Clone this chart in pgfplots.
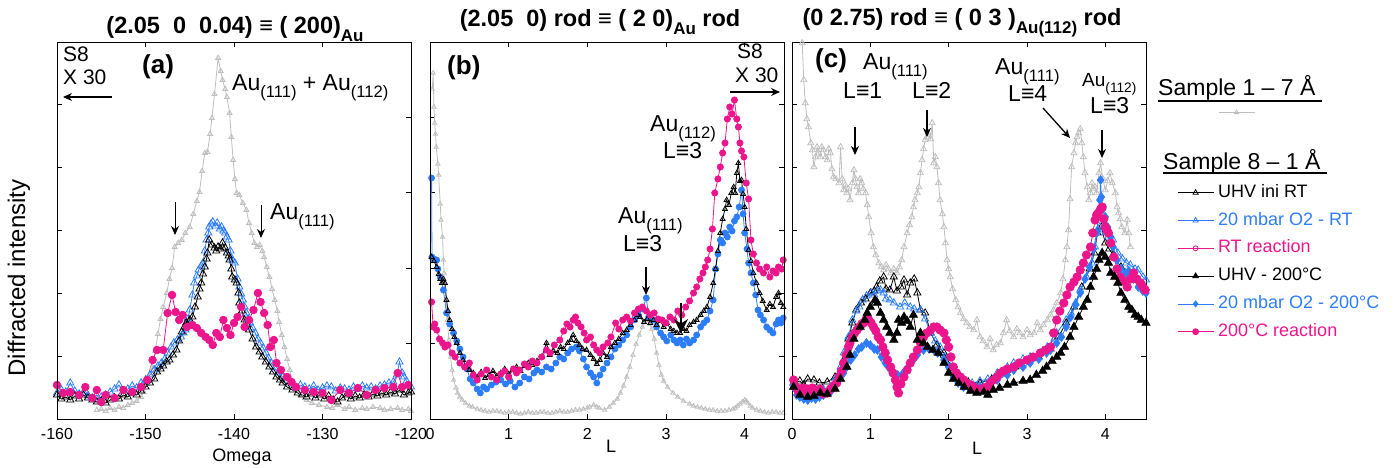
\documentclass[border=0pt]{standalone}
\usepackage{fontspec}
\setmainfont{Liberation Sans}
\usepackage{graphicx}
\usepackage{pgfplots}
\pgfplotsset{compat=1.18}
\usetikzlibrary{arrows.meta}

\definecolor{cgray}{RGB}{190,190,190}
\definecolor{cblue}{RGB}{45,125,250}
\definecolor{cpink}{RGB}{236,22,140}
\newcommand{\fs}[1]{\fontsize{#1}{#1}\selectfont}
\newcommand{\sbs}[1]{\raisebox{-0.3em}{\scalebox{0.72}{#1}}}

\pgfplotsset{
  panel/.style={scale only axis, width=354pt, height=377pt, ymin=0, ymax=377,
    yticklabels={}, tick align=inside, major tick length=5pt,
    tick style={black, line width=0.7pt}, axis line style={line width=0.8pt},
    tick label style={font=\fs{16}}, xticklabel style={yshift=-6pt},
    xtick pos=both, anchor=south west},
  rticks/.style={panel, hide x axis, ytick pos=right},
  s1/.style={cgray, line width=0.8pt, mark=triangle, mark size=2.8pt, mark options={solid}},
  uhvrt/.style={black, line width=0.8pt, mark=triangle, mark size=4.2pt, mark options={solid}},
  o2rt/.style={cblue, line width=0.8pt, mark=triangle, mark size=4.2pt, mark options={solid}},
  uhvhot/.style={black, line width=0.8pt, mark=triangle*, mark size=4.7pt, mark options={solid}},
  o2hot/.style={cblue, line width=0.8pt, mark=diamond*, mark size=4.3pt, mark options={solid}},
  reachot/.style={cpink, line width=0.8pt, mark=*, mark size=3.8pt, mark options={solid}},
  legend image code/.code={\draw[mark repeat=2,mark phase=2,#1] plot coordinates {(0pt,0pt) (18pt,0pt) (36pt,0pt)};},
}

\begin{document}
\begin{tikzpicture}[x=1pt,y=1pt]
\useasboundingbox (0,0) rectangle (1399,468);

% ---------------- (a) ----------------
\begin{axis}[panel, at={(57pt,49pt)}, xmin=-160, xmax=-120,
  xtick={-160,-150,-140,-130,-120}, xticklabels={-160,-150,-140,-130,-120},
  ytick={63,126,189,252,315}, ytick pos=left]
\addplot[s1] coordinates {(-155.5,9) (-155,10) (-154.5,8) (-154,11) (-153.5,9) (-153,12) (-152.5,11) (-152,14) (-151.5,16) (-151,18) (-150.5,22) (-150.2,27) (-149.8,35) (-149.5,44) (-149.2,52) (-148.9,68) (-148.6,85) (-148.3,100) (-148.0,112) (-147.6,126) (-147.3,140) (-147.0,151) (-146.7,172) (-146.3,176) (-145.9,179) (-145.5,186) (-145.0,192) (-144.6,205) (-144.2,218) (-143.9,227) (-143.6,248) (-143.3,266) (-143.0,267) (-142.7,285) (-142.5,301) (-142.2,325) (-141.8,361) (-141.5,348) (-141.3,339) (-141.0,330) (-140.8,322) (-140.5,306) (-140.3,282) (-140.1,259) (-139.9,240) (-139.7,226) (-139.4,224) (-139.0,216) (-138.6,209) (-138.3,196) (-138.0,186) (-137.7,176) (-137.4,172) (-137.1,174) (-136.8,168) (-136.6,162) (-136.3,152) (-136.0,142) (-135.7,130) (-135.4,119) (-135.1,108) (-134.9,97) (-134.6,84) (-134.3,72) (-134.0,60) (-133.7,49) (-133.4,38) (-133.0,29) (-132.5,24) (-131.8,19) (-131.2,16) (-130.4,14) (-129.5,12) (-128.9,11) (-128.3,14) (-127.5,10) (-127,12) (-126.3,9) (-125.5,11) (-125,10) (-124.3,12) (-123.5,11) (-123,9) (-122.3,10) (-121.5,11) (-121,9) (-120.3,10) (-120,8)};
\addplot[o2rt] coordinates {(-160,26) (-159.5,29) (-159,27) (-158.5,36) (-158,28) (-157.5,25) (-157,27) (-156.5,23) (-156,21) (-155.5,20) (-155,22) (-154.5,24) (-154,27) (-153.5,30) (-153,34) (-152.5,28) (-152,30) (-151.5,33) (-151,31) (-150.5,36) (-150,39) (-149.5,44) (-149,49) (-148.6,53) (-148.2,56) (-147.8,60) (-147.5,66) (-147.1,72) (-146.8,76) (-146.4,79) (-146,82) (-145.7,86) (-145.5,89) (-145.2,100) (-145,109) (-144.7,124) (-144.5,136) (-144.2,143) (-144,149) (-143.7,153) (-143.5,156) (-143.3,168) (-143.1,179) (-142.9,186) (-142.8,192) (-142.6,195) (-142.4,197) (-142.1,193) (-141.9,196) (-141.6,190) (-141.4,192) (-141.2,188) (-141,186) (-140.8,182) (-140.6,179) (-140.4,168) (-140.3,161) (-140.1,158) (-139.9,156) (-139.6,140) (-139.4,132) (-139.2,125) (-139,119) (-138.8,112) (-138.6,106) (-138.4,100) (-138.2,96) (-137.9,91) (-137.6,86) (-137.3,80) (-137,76) (-136.7,71) (-136.4,66) (-136.1,61) (-135.8,56) (-135.4,51) (-135,46) (-134.5,42) (-134,39) (-133.5,35) (-133,31) (-132.5,34) (-132,32) (-131.5,30) (-131,33) (-130.5,29) (-130,31) (-129.5,33) (-129,32) (-128.5,28) (-128,31) (-127.5,30) (-127,29) (-126.5,32) (-126,30) (-125.5,33) (-125,31) (-124.5,32) (-124,30) (-123.5,33) (-123,34) (-122.5,36) (-122,37) (-121.6,44) (-121.3,57) (-121,46) (-120.8,42) (-120.5,38) (-120,32)};
\addplot[uhvrt] coordinates {(-160,24) (-159.5,20) (-159,22) (-158.5,19) (-158,23) (-157.5,20) (-157,24) (-156.5,21) (-156,19) (-155.5,17) (-155,18) (-154.5,16) (-154,19) (-153.5,21) (-153,20) (-152.5,24) (-152,22) (-151.5,26) (-151,24) (-150.5,28) (-150,32) (-149.5,36) (-149,40) (-148.7,47) (-148.3,50) (-148,53) (-147.6,57) (-147.3,59) (-146.9,64) (-146.5,69) (-146.2,78) (-145.9,87) (-145.6,92) (-145.4,96) (-145.0,99) (-144.7,102) (-144.4,112) (-144.1,122) (-143.9,130) (-143.7,136) (-143.5,145) (-143.3,152) (-143.1,160) (-143.0,166) (-142.8,179) (-142.5,174) (-142.2,171) (-142.0,168) (-141.8,172) (-141.5,170) (-141.3,176) (-141.0,171) (-140.8,166) (-140.6,163) (-140.5,159) (-140.3,150) (-140.2,142) (-139.9,139) (-139.7,136) (-139.5,126) (-139.4,116) (-139.1,108) (-138.8,99) (-138.5,94) (-138.3,89) (-137.9,80) (-137.5,72) (-137.1,67) (-136.8,62) (-136.4,57) (-136.0,52) (-135.6,47) (-135.2,42) (-134.8,39) (-134.5,36) (-134.0,32) (-133.4,29) (-132.8,26) (-132.3,24) (-131.8,22) (-131.3,25) (-130.8,21) (-130.3,24) (-129.8,20) (-129.3,23) (-128.8,19) (-128.3,17) (-127.8,21) (-127.3,24) (-126.8,20) (-126.3,23) (-125.8,21) (-125.3,24) (-124.8,22) (-124.3,25) (-123.8,23) (-123.3,26) (-122.8,24) (-122.3,27) (-121.8,25) (-121.3,29) (-120.8,24) (-120.3,26) (-120,27)};
\addplot[reachot] coordinates {(-160,34) (-159.3,26) (-158.5,27) (-157.5,24) (-156.8,32) (-156,21) (-155.5,29) (-155,17) (-154.5,24) (-153.5,21) (-152.5,29) (-151.5,27) (-150.5,32) (-149.8,39) (-149.2,59) (-148.7,69) (-148,69) (-147.5,106) (-147,124) (-146.6,107) (-146.2,99) (-145.8,104) (-145.3,92) (-144.7,94) (-144.2,91) (-143.7,86) (-143.2,82) (-142.8,79) (-142.4,74) (-142.0,86) (-141.6,82) (-141.2,99) (-140.8,91) (-140.4,84) (-140.0,96) (-139.6,102) (-139.2,112) (-138.8,92) (-138.3,99) (-137.8,109) (-137.3,126) (-137.0,117) (-136.6,106) (-136.2,94) (-135.9,72) (-135.5,79) (-135.2,56) (-134.7,49) (-134.0,42) (-133.5,37) (-133.0,32) (-132,29) (-131,27) (-130,26) (-129,19) (-128,29) (-127,26) (-126,31) (-125,24) (-124,29) (-123,31) (-122,32) (-121.5,46) (-121,32) (-120.3,34)};
\end{axis}
\begin{axis}[rticks, at={(57pt,49pt)}, xmin=-160, xmax=-120, ytick={76,151,227,302}]
\end{axis}

% ---------------- (b) ----------------
\begin{axis}[panel, at={(430pt,49pt)}, xmin=0, xmax=4.5, xtick={0,1,2,3,4}, xticklabels={0,1,2,3,4},
  ytick={76,151,227,302}, ytick pos=left,
  legend style={at={(2.28,0.815)}, anchor=center, draw=none, fill=none, inner sep=0pt, nodes={inner sep=0pt}},
  legend image post style={mark size=2.5pt}]
\addplot[s1, mark size=2.5pt] coordinates {(0.03,330) (0.04,346) (0.05,312) (0.06,296) (0.07,285) (0.08,272) (0.10,255) (0.11,244) (0.13,215) (0.14,199) (0.16,182) (0.17,159) (0.18,146) (0.20,119) (0.22,99) (0.24,79) (0.26,62) (0.28,49) (0.30,39) (0.33,31) (0.35,26) (0.38,22) (0.41,19) (0.45,16) (0.50,13) (0.54,12) (0.6,10) (0.65,9) (0.7,8) (0.75,7) (0.8,8) (0.85,8) (0.9,7) (0.95,6) (1.0,7) (1.05,7) (1.1,6) (1.15,5) (1.2,6) (1.25,7) (1.3,6) (1.35,6) (1.4,7) (1.45,7) (1.5,6) (1.55,6) (1.6,7) (1.65,8) (1.7,7) (1.75,7) (1.8,8) (1.85,9) (1.9,9) (1.95,10) (2.0,11) (2.03,12) (2.08,14) (2.12,12) (2.15,11) (2.22,9) (2.28,12) (2.33,16) (2.38,20) (2.42,26) (2.46,33) (2.50,42) (2.54,52) (2.58,64) (2.62,75) (2.66,84) (2.70,92) (2.75,99) (2.79,95) (2.82,90) (2.85,80) (2.88,66) (2.91,54) (2.94,44) (2.97,38) (3.02,32) (3.09,26) (3.15,22) (3.22,18) (3.3,15) (3.35,13) (3.4,12) (3.45,11) (3.5,10) (3.55,9) (3.6,9) (3.65,8) (3.7,8) (3.75,8) (3.8,9) (3.85,10) (3.88,11) (3.91,13) (3.94,15) (3.97,17) (4.0,19) (4.02,18) (4.04,16) (4.07,13) (4.1,11) (4.15,9) (4.2,8) (4.25,7) (4.3,6) (4.35,7) (4.4,7) (4.45,6) (4.49,6)};
\addlegendentry{}
\addplot[cblue, line width=0.8pt, mark=*, mark size=3pt, forget plot] coordinates {(0.02,241) (0.025,162) (0.05,160) (0.085,159) (0.1,150) (0.13,142) (0.17,129) (0.21,106) (0.25,95) (0.3,86) (0.34,78) (0.38,70) (0.42,62) (0.47,50) (0.51,40) (0.55,36) (0.6,30) (0.64,26) (0.68,32) (0.72,30) (0.78,34) (0.84,37) (0.9,39) (0.96,35) (1.02,38) (1.08,32) (1.14,36) (1.2,42) (1.26,40) (1.32,46) (1.36,49) (1.42,47) (1.48,52) (1.54,50) (1.6,56) (1.65,62) (1.7,60) (1.75,66) (1.8,70) (1.86,72) (1.9,68) (1.95,60) (1.99,52) (2.04,46) (2.08,42) (2.12,36) (2.16,44) (2.2,50) (2.25,56) (2.3,62) (2.35,70) (2.4,74) (2.45,79) (2.5,84) (2.55,92) (2.6,99) (2.65,104) (2.7,110) (2.75,121) (2.78,102) (2.84,99) (2.88,92) (2.93,86) (2.97,82) (3.01,78) (3.06,84) (3.1,79) (3.14,76) (3.18,79) (3.22,74) (3.26,80) (3.3,76) (3.35,79) (3.39,84) (3.44,92) (3.48,96) (3.52,99) (3.56,108) (3.6,119) (3.63,150) (3.66,165) (3.69,179) (3.72,176) (3.75,186) (3.78,182) (3.81,192) (3.84,188) (3.87,198) (3.9,202) (3.93,212) (3.96,229) (3.98,205) (4.0,186) (4.03,170) (4.05,156) (4.08,146) (4.11,136) (4.14,124) (4.17,109) (4.2,104) (4.24,99) (4.28,92) (4.32,89) (4.36,86) (4.4,95) (4.43,99) (4.46,96) (4.49,101)};
\addplot[black, line width=0.8pt, mark=triangle, mark size=2.8pt, mark options={solid}, forget plot] coordinates {(0.02,162) (0.05,158) (0.085,152) (0.11,145) (0.13,140) (0.15,136) (0.17,140) (0.19,136) (0.21,119) (0.23,108) (0.25,99) (0.28,90) (0.31,82) (0.34,76) (0.38,66) (0.42,59) (0.46,52) (0.5,49) (0.55,46) (0.6,42) (0.65,47) (0.7,41) (0.75,44) (0.8,48) (0.85,43) (0.9,46) (0.95,50) (1.0,45) (1.05,49) (1.1,52) (1.15,48) (1.2,53) (1.25,56) (1.3,54) (1.36,58) (1.42,62) (1.48,76) (1.52,64) (1.57,68) (1.62,66) (1.66,72) (1.7,70) (1.75,76) (1.79,79) (1.82,84) (1.86,78) (1.9,74) (1.94,70) (1.99,69) (2.04,64) (2.08,60) (2.12,55) (2.16,59) (2.2,66) (2.25,62) (2.3,72) (2.35,76) (2.4,80) (2.45,86) (2.5,89) (2.55,94) (2.6,99) (2.64,104) (2.67,102) (2.72,97) (2.76,100) (2.8,96) (2.84,99) (2.88,94) (2.93,98) (2.97,92) (3.01,96) (3.06,90) (3.1,88) (3.14,86) (3.18,86) (3.22,90) (3.26,88) (3.3,94) (3.35,97) (3.39,99) (3.44,104) (3.48,108) (3.52,112) (3.56,122) (3.6,136) (3.63,150) (3.66,168) (3.69,186) (3.72,200) (3.75,210) (3.77,219) (3.8,214) (3.83,226) (3.86,232) (3.88,226) (3.9,246) (3.92,256) (3.94,238) (3.96,239) (3.98,225) (4.0,212) (4.02,190) (4.05,169) (4.08,158) (4.11,146) (4.15,136) (4.19,126) (4.23,118) (4.28,109) (4.32,115) (4.36,112) (4.4,122) (4.43,126) (4.46,116) (4.49,112)};
\addplot[cpink, line width=0.8pt, mark=*, mark size=3.1pt, forget plot] coordinates {(0.02,117) (0.04,92) (0.06,95) (0.085,89) (0.12,80) (0.16,76) (0.19,72) (0.23,74) (0.28,66) (0.32,62) (0.38,56) (0.44,52) (0.5,56) (0.55,44) (0.6,39) (0.65,45) (0.72,49) (0.78,42) (0.85,39) (0.9,45) (0.95,48) (1.0,42) (1.06,50) (1.1,46) (1.14,49) (1.2,55) (1.25,52) (1.3,58) (1.36,56) (1.42,62) (1.48,69) (1.53,66) (1.58,74) (1.65,79) (1.7,88) (1.74,95) (1.78,92) (1.82,99) (1.85,102) (1.88,96) (1.92,92) (1.96,86) (1.99,79) (2.04,82) (2.08,74) (2.12,69) (2.16,66) (2.2,72) (2.26,76) (2.3,82) (2.36,96) (2.4,90) (2.45,99) (2.5,102) (2.55,98) (2.6,106) (2.65,110) (2.7,112) (2.75,108) (2.8,104) (2.85,106) (2.9,100) (2.95,99) (3.0,96) (3.05,102) (3.1,99) (3.15,108) (3.2,104) (3.25,112) (3.3,118) (3.35,126) (3.39,132) (3.43,140) (3.47,146) (3.5,152) (3.53,159) (3.56,170) (3.59,190) (3.62,226) (3.66,240) (3.69,252) (3.72,266) (3.75,276) (3.78,300) (3.81,312) (3.84,305) (3.87,319) (3.9,300) (3.92,292) (3.94,276) (3.96,268) (3.99,262) (4.02,236) (4.05,220) (4.08,179) (4.11,165) (4.15,156) (4.19,150) (4.24,146) (4.28,152) (4.32,142) (4.36,148) (4.4,146) (4.43,152) (4.47,150) (4.49,159)};
\end{axis}
\begin{axis}[rticks, at={(430pt,49pt)}, xmin=0, xmax=4.5, ytick={63,126,189,252,315}]
\end{axis}

% ---------------- (c) ----------------
\begin{axis}[panel, at={(792pt,49pt)}, xmin=0, xmax=4.52, xtick={0,1,2,3,4}, xticklabels={0,1,2,3,4},
  ytick={63,126,189,252,315},
  legend style={at={(1.0876,0.6233)}, anchor=north west, draw=none, fill=none, inner sep=0pt,
    row sep=10.8pt, column sep=4pt, font=\fs{18}, nodes={inner sep=0pt, text height=13pt, text depth=4pt}},
  legend cell align=left]
\addplot[s1, mark size=3.4pt, forget plot] coordinates {(0.10,395) (0.13,376) (0.15,339) (0.17,316) (0.19,300) (0.21,292) (0.24,276) (0.26,269) (0.28,252) (0.30,262) (0.32,272) (0.34,266) (0.36,262) (0.38,272) (0.40,269) (0.43,262) (0.45,259) (0.47,270) (0.49,266) (0.51,250) (0.53,242) (0.56,240) (0.6,236) (0.62,272) (0.64,240) (0.66,229) (0.68,234) (0.70,226) (0.72,230) (0.74,219) (0.77,236) (0.79,249) (0.81,240) (0.83,232) (0.85,226) (0.87,240) (0.89,236) (0.91,230) (0.94,226) (0.96,214) (0.98,202) (1.01,186) (1.04,172) (1.07,164) (1.11,156) (1.14,152) (1.17,149) (1.2,154) (1.23,150) (1.26,146) (1.3,150) (1.34,146) (1.37,152) (1.40,159) (1.43,172) (1.47,186) (1.50,194) (1.53,202) (1.55,212) (1.57,219) (1.6,226) (1.62,232) (1.64,246) (1.66,259) (1.68,270) (1.70,279) (1.72,282) (1.74,286) (1.77,280) (1.79,296) (1.81,256) (1.83,262) (1.85,252) (1.87,236) (1.89,219) (1.92,205) (1.94,192) (1.96,176) (1.98,159) (2.0,150) (2.02,142) (2.05,130) (2.09,119) (2.12,112) (2.15,106) (2.19,100) (2.23,96) (2.27,92) (2.32,89) (2.36,99) (2.40,82) (2.44,78) (2.49,72) (2.53,80) (2.57,69) (2.61,74) (2.66,76) (2.70,86) (2.74,99) (2.78,88) (2.83,82) (2.87,90) (2.91,86) (2.95,82) (3.0,89) (3.04,84) (3.09,86) (3.13,96) (3.17,89) (3.21,94) (3.26,99) (3.3,104) (3.34,109) (3.38,116) (3.43,126) (3.46,140) (3.49,159) (3.51,172) (3.53,189) (3.55,220) (3.57,252) (3.6,266) (3.62,276) (3.64,282) (3.66,286) (3.68,290) (3.70,276) (3.72,262) (3.74,246) (3.77,232) (3.79,219) (3.81,226) (3.83,236) (3.85,230) (3.87,232) (3.89,226) (3.92,246) (3.94,256) (3.97,240) (4.0,229) (4.03,238) (4.06,246) (4.09,236) (4.13,226) (4.15,212) (4.17,206) (4.19,200) (4.21,192) (4.25,186) (4.28,199) (4.3,186) (4.32,172)};
\addplot[uhvrt, mark size=4.2pt, forget plot] coordinates {(0.02,36) (0.1,38) (0.15,34) (0.2,40) (0.28,39) (0.35,36) (0.45,37) (0.55,42) (0.66,59) (0.72,80) (0.77,96) (0.82,109) (0.88,116) (0.94,120) (1.0,126) (1.05,128) (1.08,132) (1.12,138) (1.17,142) (1.2,130) (1.25,129) (1.3,142) (1.34,128) (1.39,132) (1.43,139) (1.47,124) (1.51,136) (1.56,140) (1.6,126) (1.64,109) (1.7,106) (1.77,86) (1.85,74) (1.94,66) (2.06,49) (2.15,42) (2.25,37) (2.4,36) (2.55,40) (2.7,46) (2.85,52) (3.0,58) (3.15,62) (3.3,70) (3.4,82) (3.5,96) (3.6,112) (3.7,132) (3.8,150) (3.86,166) (3.9,186) (3.95,192) (4.0,176) (4.05,170) (4.1,164) (4.2,152) (4.3,146) (4.4,140) (4.5,132)};
\addplot[o2rt, mark size=4.2pt, forget plot] coordinates {(0.02,36) (0.1,30) (0.2,28) (0.3,29) (0.4,30) (0.49,32) (0.55,40) (0.62,52) (0.66,66) (0.72,82) (0.77,99) (0.82,108) (0.86,112) (0.9,119) (0.95,123) (1.01,126) (1.05,124) (1.09,128) (1.13,129) (1.17,126) (1.2,120) (1.25,119) (1.3,116) (1.38,112) (1.44,116) (1.51,112) (1.56,110) (1.64,109) (1.7,100) (1.77,86) (1.83,78) (1.89,72) (1.95,62) (2.02,52) (2.1,46) (2.19,39) (2.3,36) (2.4,38) (2.5,40) (2.62,46) (2.75,52) (2.83,56) (2.95,60) (3.04,62) (3.2,68) (3.26,72) (3.35,80) (3.38,86) (3.5,99) (3.56,106) (3.62,116) (3.68,129) (3.76,142) (3.83,156) (3.87,172) (3.9,189) (3.93,192) (3.96,190) (4.0,186) (4.04,182) (4.1,179) (4.16,166) (4.22,160) (4.27,156) (4.32,154) (4.38,150) (4.42,149) (4.48,142) (4.52,139)};
\addplot[o2hot, forget plot] coordinates {(0.02,32) (0.06,24) (0.1,22) (0.15,20) (0.2,19) (0.25,21) (0.3,20) (0.35,22) (0.4,24) (0.45,26) (0.5,28) (0.55,34) (0.6,40) (0.66,46) (0.7,52) (0.75,59) (0.8,64) (0.85,70) (0.89,72) (0.95,76) (1.0,74) (1.05,70) (1.09,69) (1.14,62) (1.19,56) (1.23,52) (1.3,46) (1.35,44) (1.42,46) (1.48,52) (1.55,59) (1.6,64) (1.68,69) (1.75,70) (1.81,69) (1.86,66) (1.94,59) (2.0,52) (2.06,42) (2.12,36) (2.19,32) (2.27,30) (2.34,31) (2.4,32) (2.5,34) (2.62,39) (2.75,44) (2.83,49) (2.95,52) (3.04,56) (3.15,60) (3.25,66) (3.3,69) (3.38,76) (3.44,82) (3.5,92) (3.56,102) (3.62,114) (3.68,126) (3.74,140) (3.8,152) (3.85,170) (3.89,186) (3.91,205) (3.93,219) (3.94,239) (3.95,222) (3.97,210) (4.0,202) (4.03,192) (4.07,182) (4.1,172) (4.15,159) (4.2,150) (4.26,146) (4.3,148) (4.36,140) (4.42,132) (4.48,128) (4.52,126)};
\addplot[reachot, mark size=4.2pt, forget plot] coordinates {(0.02,39) (0.05,32) (0.08,28) (0.11,29) (0.14,31) (0.17,27) (0.2,30) (0.23,28) (0.26,31) (0.28,29) (0.32,27) (0.36,30) (0.4,25) (0.45,26) (0.49,30) (0.53,33) (0.57,36) (0.6,42) (0.63,48) (0.66,56) (0.69,64) (0.72,72) (0.74,76) (0.77,82) (0.8,86) (0.83,89) (0.86,92) (0.89,95) (0.91,96) (0.94,99) (0.96,102) (0.98,99) (1.01,96) (1.04,92) (1.07,88) (1.1,82) (1.13,79) (1.16,72) (1.19,66) (1.22,59) (1.26,52) (1.29,46) (1.32,39) (1.34,32) (1.36,26) (1.39,35) (1.43,42) (1.47,49) (1.51,56) (1.55,62) (1.6,69) (1.64,76) (1.68,82) (1.72,86) (1.77,89) (1.81,92) (1.85,92) (1.89,89) (1.94,86) (1.97,79) (2.0,72) (2.03,62) (2.06,52) (2.1,46) (2.15,42) (2.19,39) (2.23,36) (2.28,34) (2.32,32) (2.36,30) (2.4,29) (2.45,31) (2.49,32) (2.53,36) (2.57,39) (2.62,42) (2.66,46) (2.7,48) (2.75,50) (2.83,52) (2.9,56) (3.0,59) (3.08,62) (3.17,66) (3.24,69) (3.3,72) (3.34,86) (3.38,99) (3.42,108) (3.47,116) (3.51,124) (3.55,132) (3.6,137) (3.64,142) (3.68,149) (3.72,156) (3.76,164) (3.81,172) (3.84,186) (3.87,199) (3.89,204) (3.91,206) (3.94,210) (3.96,212) (3.98,200) (4.0,192) (4.02,189) (4.04,186) (4.07,176) (4.11,162) (4.15,150) (4.19,142) (4.23,138) (4.28,132) (4.32,140) (4.36,146) (4.4,140) (4.45,136) (4.48,132) (4.51,129)};
\addplot[uhvhot, forget plot] coordinates {(0.02,32) (0.1,24) (0.2,22) (0.28,23) (0.36,26) (0.45,25) (0.55,30) (0.62,40) (0.7,52) (0.74,64) (0.79,80) (0.87,92) (0.93,99) (0.96,106) (1.0,112) (1.06,119) (1.09,116) (1.13,106) (1.17,99) (1.21,92) (1.25,86) (1.3,79) (1.34,86) (1.36,99) (1.4,96) (1.43,102) (1.47,98) (1.51,92) (1.55,104) (1.6,79) (1.64,86) (1.68,76) (1.73,72) (1.8,69) (1.87,66) (1.94,56) (2.0,46) (2.06,40) (2.13,36) (2.2,32) (2.28,28) (2.36,26) (2.45,27) (2.5,24) (2.57,29) (2.65,31) (2.75,34) (2.83,36) (2.95,38) (3.04,39) (3.12,44) (3.2,48) (3.25,52) (3.32,58) (3.38,62) (3.43,66) (3.48,72) (3.55,82) (3.6,92) (3.66,102) (3.72,112) (3.77,119) (3.81,132) (3.85,142) (3.89,150) (3.92,159) (3.96,166) (4.0,162) (4.04,156) (4.07,146) (4.12,142) (4.16,136) (4.2,126) (4.25,119) (4.3,112) (4.34,109) (4.38,104) (4.42,102) (4.46,99) (4.52,96)};
\addlegendimage{black, line width=0.8pt, mark=triangle, mark size=3pt, mark options={solid}}
\addlegendentry{UHV ini RT}
\addlegendimage{cblue, line width=0.8pt, mark=triangle, mark size=3pt, mark options={solid}}
\addlegendentry{\textcolor{cblue}{20 mbar O2 - RT}}
\addlegendimage{cpink, line width=0.8pt, mark=o, mark size=2.5pt, mark options={solid}}
\addlegendentry{\textcolor{cpink}{RT reaction}}
\addlegendimage{black, line width=0.8pt, mark=triangle*, mark size=3.2pt, mark options={solid}}
\addlegendentry{UHV - 200°C}
\addlegendimage{cblue, line width=0.8pt, mark=diamond*, mark size=3pt, mark options={solid}}
\addlegendentry{\textcolor{cblue}{20 mbar O2 - 200°C}}
\addlegendimage{cpink, line width=0.8pt, mark=*, mark size=3pt, mark options={solid}}
\addlegendentry{\textcolor{cpink}{200°C reaction}}
\end{axis}

% ---------------- titles, labels, notes ----------------
\tikzset{note/.style={anchor=base west, inner sep=0pt, font=\fs{23}},
  arr/.style={line width=1.3pt, -{Stealth[length=9pt,width=8pt]}}}
\node[anchor=base, font=\bfseries\fs{23.5}] at (235,434) {(2.05\ \ 0\ \ 0.04) ≡ ( 200)\sbs{Au}};
\node[anchor=base, font=\bfseries\fs{23.5}] at (600,441) {(2.05\ \ 0) rod ≡ ( 2 0)\sbs{Au} rod};
\node[anchor=base, font=\bfseries\fs{23.5}] at (962,442) {(0 2.75) rod ≡ ( 0 3 )\sbs{Au(112)} rod};
\node[rotate=90, font=\fs{24}] at (19,190) {Diffracted intensity};
\node[anchor=base, font=\fs{18}] at (242,6) {Omega};
\node[anchor=base, font=\fs{18}] at (611,15) {L};
\node[anchor=base, font=\fs{18}] at (977,13) {L};

% (a)
\node[note, font=\fs{21}] at (63,406) {S8};
\node[note, font=\fs{21}] at (63,383) {X 30};
\draw[arr] (112,371) -- (63,371);
\node[note, font=\bfseries\fs{26}] at (142,394) {(a)};
\node[note] at (232,377) {Au\sbs{(111)} + Au\sbs{(112)}};
\draw[arr, line width=1pt] (175,266) -- (175,233);
\draw[arr, line width=1pt] (261,263) -- (261,230);
\node[note] at (270,248) {Au\sbs{(111)}};
% (b)
\node[note, font=\bfseries\fs{26}] at (447,393) {(b)};
\node[note, font=\fs{21}] at (737,409) {S8};
\node[note, font=\fs{21}] at (735,385) {X 30};
\draw[arr] (730,376) -- (780,376);
\node[note] at (650,336) {Au\sbs{(112)}};
\node[note] at (663,309) {L≡3};
\node[note] at (618,244) {Au\sbs{(111)}};
\node[note] at (623,216) {L≡3};
\draw[arr] (646,201) -- (646,173);
\draw[line width=1.8pt, -{Stealth[length=14pt,width=14pt]}] (681,165) -- (681,135);
% (c)
\node[note, font=\bfseries\fs{26}] at (815,400) {(c)};
\node[note] at (863,398) {Au\sbs{(111)}};
\node[note] at (843,369) {L≡1};
\node[note] at (912,369) {L≡2};
\draw[arr] (855,341) -- (855,313);
\draw[arr] (927,358) -- (927,331);
\node[note] at (995,393) {Au\sbs{(111)}};
\node[note] at (1008,366) {L≡4};
\draw[arr] (1043,360) -- (1070,330);
\node[note, font=\fs{19}] at (1082,381) {Au\sbs{(112)}};
\node[note] at (1090,354) {L≡3};
\draw[arr] (1102,338) -- (1102,310);

% legend headings
\node[note] at (1158,372) {Sample 1 – 7 Å};
\draw[line width=1.5pt] (1158,367) -- (1322,367);
\node[note] at (1163,298) {Sample 8 – 1 Å};
\draw[line width=1.5pt] (1163,295) -- (1327,295);
\end{tikzpicture}
\end{document}
